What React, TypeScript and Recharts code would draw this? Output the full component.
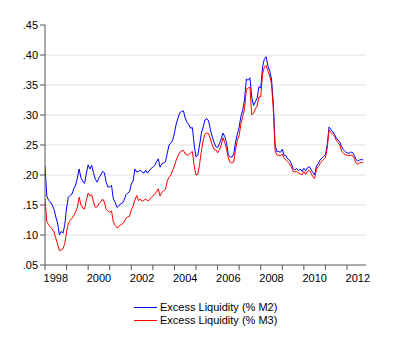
import React from 'react';
import { LineChart, Line, XAxis, YAxis, CartesianGrid } from 'recharts';

// Monthly observations starting January 1998
const startYear = 1998;

const m2Values = [
  0.215, 0.165, 0.158, 0.155, 0.15, 0.143, 0.13, 0.12, 0.1, 0.106, 0.103, 0.117,
  0.145, 0.163, 0.166, 0.168, 0.177, 0.183, 0.195, 0.21, 0.195, 0.19, 0.186, 0.203,
  0.217, 0.21, 0.216, 0.203, 0.193, 0.188, 0.195, 0.2, 0.206, 0.204, 0.188, 0.18,
  0.18, 0.183, 0.16, 0.155, 0.146, 0.148, 0.152, 0.153, 0.158, 0.167, 0.17, 0.172,
  0.185, 0.19, 0.21, 0.205, 0.206, 0.208, 0.205, 0.203, 0.208, 0.203, 0.207, 0.211,
  0.213, 0.216, 0.222, 0.227, 0.213, 0.219, 0.22, 0.222, 0.236, 0.25, 0.253, 0.258,
  0.27, 0.285, 0.295, 0.304, 0.306, 0.307, 0.295, 0.288, 0.284, 0.278, 0.279, 0.25,
  0.23, 0.233, 0.25, 0.27, 0.28, 0.292, 0.294, 0.29, 0.276, 0.264, 0.255, 0.247,
  0.246, 0.252, 0.26, 0.27, 0.264, 0.253, 0.233, 0.23, 0.23, 0.235, 0.255, 0.268,
  0.28, 0.298, 0.308, 0.325, 0.36, 0.358, 0.362, 0.33, 0.316, 0.322, 0.328, 0.347,
  0.345, 0.38, 0.393, 0.397, 0.382, 0.373, 0.36, 0.32, 0.25, 0.239, 0.239, 0.238,
  0.243, 0.233, 0.232, 0.227, 0.225, 0.219, 0.211, 0.208, 0.211, 0.207, 0.21, 0.206,
  0.211, 0.207, 0.212, 0.214, 0.209, 0.204, 0.2, 0.215, 0.219, 0.225, 0.228, 0.231,
  0.234, 0.25, 0.28, 0.276, 0.272, 0.268, 0.262, 0.258, 0.255, 0.247, 0.242, 0.239,
  0.237, 0.236, 0.238, 0.238, 0.233, 0.226, 0.223, 0.225, 0.226, 0.225,
];

const m3Values = [
  0.16, 0.122, 0.117, 0.113, 0.11, 0.105, 0.095, 0.085, 0.074, 0.075, 0.077, 0.086,
  0.105, 0.12, 0.124, 0.128, 0.132, 0.138, 0.146, 0.163, 0.15, 0.145, 0.143, 0.158,
  0.17, 0.165, 0.167, 0.155, 0.146, 0.147, 0.152, 0.155, 0.16, 0.155, 0.143, 0.14,
  0.138, 0.14, 0.122, 0.116, 0.112, 0.114, 0.117, 0.118, 0.122, 0.128, 0.13, 0.131,
  0.142, 0.148, 0.158, 0.166, 0.157, 0.16, 0.156, 0.158, 0.16, 0.157, 0.158, 0.162,
  0.165, 0.168, 0.172, 0.177, 0.165, 0.171, 0.174, 0.176, 0.19, 0.196, 0.2, 0.208,
  0.215, 0.225, 0.232, 0.238, 0.24, 0.241, 0.235, 0.233, 0.234, 0.237, 0.239, 0.215,
  0.2, 0.201, 0.218, 0.24, 0.258, 0.268, 0.27, 0.269, 0.26, 0.25, 0.243, 0.242,
  0.237, 0.242, 0.25, 0.262, 0.254, 0.243, 0.228, 0.221, 0.22, 0.222, 0.243, 0.258,
  0.266, 0.285, 0.298, 0.31, 0.343, 0.345, 0.346, 0.3, 0.303, 0.31, 0.315, 0.33,
  0.33, 0.368, 0.38, 0.383, 0.373, 0.365, 0.352, 0.31, 0.24, 0.233, 0.233, 0.232,
  0.235, 0.228, 0.225, 0.222, 0.219, 0.214, 0.206, 0.205, 0.206, 0.203, 0.202, 0.2,
  0.206, 0.201, 0.206, 0.208, 0.203, 0.197, 0.194, 0.21, 0.214, 0.219, 0.223, 0.226,
  0.229, 0.245, 0.275, 0.271, 0.268, 0.265, 0.258, 0.254, 0.25, 0.24, 0.236, 0.234,
  0.233, 0.232, 0.233, 0.233, 0.228, 0.22, 0.218, 0.22, 0.221, 0.221,
];

const yTicks = [0.05, 0.1, 0.15, 0.2, 0.25, 0.3, 0.35, 0.4, 0.45];
const gridValues = [0.1, 0.15, 0.2, 0.25, 0.3, 0.35, 0.4];
const yearTicks = [1998, 1999, 2000, 2001, 2002, 2003, 2004, 2005, 2006, 2007, 2008, 2009, 2010, 2011, 2012];
const yearLabels = [1998, 2000, 2002, 2004, 2006, 2008, 2010, 2012];
const xDomain = [1998, 2012.88];

const series = [
  { key: 'm2', name: 'Excess Liquidity (% M2)', color: '#0000ff' },
  { key: 'm3', name: 'Excess Liquidity (% M3)', color: '#ff0000' },
];

const data = m2Values.map((v, i) => ({
  t: startYear + i / 12,
  m2: v,
  m3: m3Values[i],
}));

const font = '"Liberation Sans", Arial, Helvetica, sans-serif';
const tickStyle = { fill: '#000', fontSize: 11, fontFamily: font };

export default function App() {
  return (
    <div style={{ position: 'relative', width: 400, height: 352, background: '#fff' }}>
      <style>{`body{margin:0;background:#fff}`}</style>
      <LineChart
        width={400}
        height={290}
        data={data}
        margin={{ top: 25, right: 34, bottom: 0, left: 0 }}
      >
        <CartesianGrid
          vertical={false}
          horizontalValues={gridValues}
          stroke="#e3e3e3"
          strokeWidth={1}
        />
        <XAxis
          xAxisId="b"
          dataKey="t"
          type="number"
          domain={xDomain}
          allowDataOverflow
          ticks={yearLabels.map((y) => y + 0.5)}
          tickFormatter={(v: number) => String(Math.floor(v))}
          axisLine={false}
          tickLine={false}
          tickSize={0}
          tickMargin={4}
          height={20}
          interval={0}
          tick={tickStyle}
        />
        <XAxis
          xAxisId="a"
          dataKey="t"
          type="number"
          domain={xDomain}
          allowDataOverflow
          ticks={yearTicks}
          tickFormatter={() => ''}
          tickSize={5}
          height={5}
          stroke="#555"
          axisLine={{ stroke: '#555' }}
          tickLine={{ stroke: '#555' }}
        />
        <YAxis
          type="number"
          domain={[0.05, 0.45]}
          ticks={yTicks}
          interval={0}
          width={45}
          tickSize={5}
          tickMargin={2}
          tickFormatter={(v: number) => v.toFixed(2).replace(/^0/, '')}
          axisLine={{ stroke: '#555' }}
          tickLine={{ stroke: '#555' }}
          tick={tickStyle}
        />
        {series.map((s) => (
          <Line
            key={s.key}
            xAxisId="a"
            type="linear"
            dataKey={s.key}
            name={s.name}
            stroke={s.color}
            strokeWidth={1}
            dot={false}
            activeDot={false}
            isAnimationActive={false}
          />
        ))}
      </LineChart>
      <div
        style={{
          position: 'absolute',
          left: 134,
          top: 301,
          fontFamily: font,
          fontSize: 11,
          color: '#000',
        }}
      >
        {series.map((s) => (
          <div key={s.key} style={{ display: 'flex', alignItems: 'center', height: 13 }}>
            <svg width={23} height={13} style={{ display: 'block' }}>
              <line x1={0} y1={6.5} x2={23} y2={6.5} stroke={s.color} strokeWidth={1} />
            </svg>
            <span style={{ marginLeft: 3, lineHeight: '13px', whiteSpace: 'nowrap' }}>{s.name}</span>
          </div>
        ))}
      </div>
    </div>
  );
}
